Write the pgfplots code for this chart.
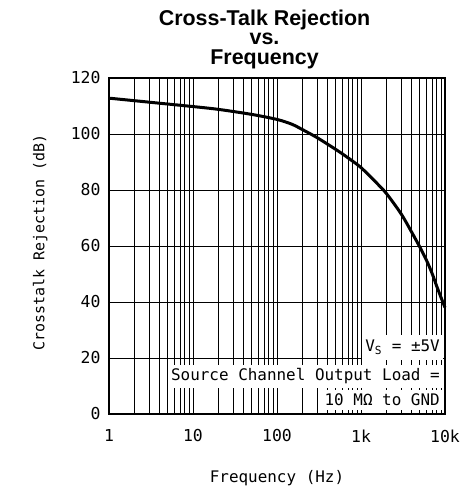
\documentclass[border=0pt]{standalone}
\usepackage{fontspec}
\setmainfont{DejaVu Sans Mono}
\newfontfamily\titlefont{Liberation Sans}
\usepackage{pgfplots}
\pgfplotsset{compat=1.18}
\begin{document}
\begin{tikzpicture}
\begin{axis}[
  name=ax,
  scale only axis,
  width=336bp, height=336bp,
  xmode=log, xmin=1, xmax=10000,
  ymin=0, ymax=120,
  xtick={1,10,100,1000,10000},
  xticklabels={1,10,100,1k,10k},
  ytick={0,20,40,60,80,100,120},
  minor xtick={2,3,4,5,6,7,8,9,20,30,40,50,60,70,80,90,200,300,400,500,600,700,800,900,2000,3000,4000,5000,6000,7000,8000,9000},
  grid=both,
  major grid style={black, line width=0.8bp},
  minor grid style={black, line width=0.8bp},
  major tick length=0pt, minor tick length=0pt,
  axis line style={black, line width=1.6bp},
  /pgf/number format/assume math mode=true,
  tick label style={font=\fontsize{16.5}{19}\selectfont},
  xticklabel style={yshift=-12bp},
  yticklabel style={xshift=-5bp},
  clip=false,
]
\addplot[black, line width=3bp, smooth] coordinates {
 (1,112.8) (2,111.9) (5,110.7) (10,109.8) (20,108.8) (50,107.0) (100,105.2)
 (150,103.5) (200,101.6) (300,98.7) (500,94.5) (700,91.5) (1000,88.0)
 (1500,82.8) (2000,78.8) (3000,71.5) (4000,65.0) (5000,59.7) (6000,55.0)
 (7000,50.3) (8000,45.5) (9000,41.5) (10000,38.0)
};
\node[fill=white, anchor=east, inner xsep=3bp, inner ysep=0pt, minimum height=25bp, font=\fontsize{16}{18}\selectfont] at (axis description cs:0.994,0.199) {V$_{\mathrm{S}}$ = ±5V};
\node[fill=white, anchor=east, inner xsep=3bp, inner ysep=0pt, minimum height=23bp, font=\fontsize{16}{18}\selectfont] at (axis description cs:0.994,0.113) {Source Channel Output Load =};
\node[fill=white, anchor=east, inner xsep=3bp, inner ysep=0pt, minimum height=20bp, font=\fontsize{16}{18}\selectfont] at (axis description cs:0.994,0.042) {10 MΩ to GND};
\node[rotate=90, font=\fontsize{15}{17}\selectfont] at (axis description cs:-0.205,0.51) {Crosstalk Rejection (dB)};
\node[font=\fontsize{16}{18}\selectfont] at (axis description cs:0.5,-0.19) {Frequency (Hz)};
\node[anchor=south, align=center, inner sep=0pt, font=\titlefont\bfseries\fontsize{21.5}{19.5}\selectfont] at (axis description cs:0.463,1.027) {Cross-Talk Rejection\\vs.\\Frequency};
\end{axis}
\pgfresetboundingbox
\path ([shift={(-109bp,-78bp)}]ax.south west) rectangle ([shift={(21bp,78bp)}]ax.north east);
\end{tikzpicture}
\end{document}
